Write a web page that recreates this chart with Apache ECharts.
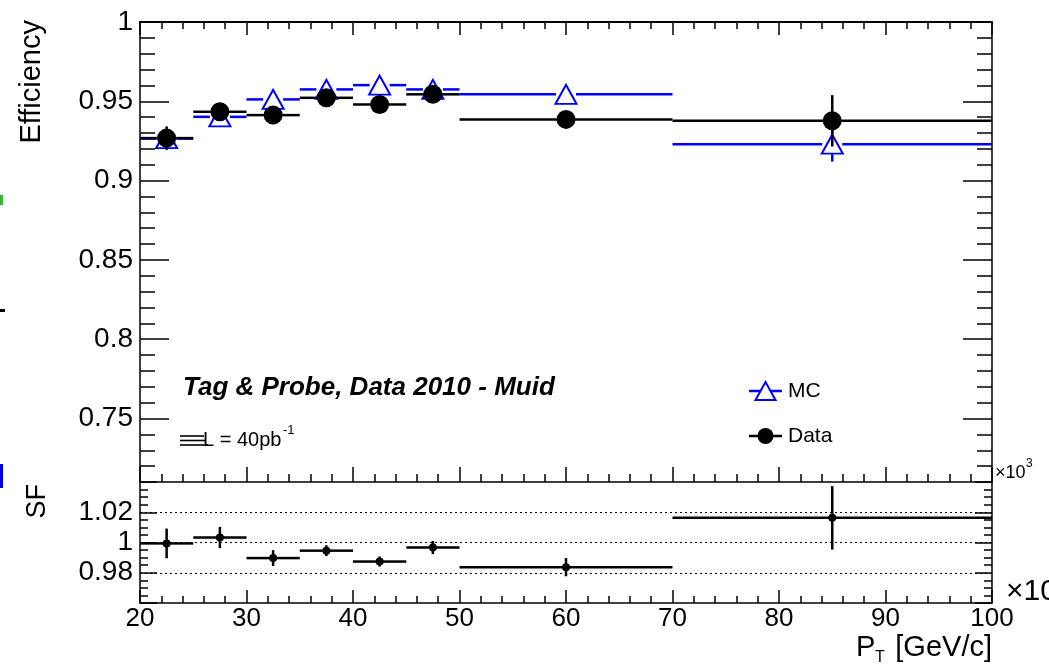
<!DOCTYPE html>
<html>
<head>
<meta charset="utf-8">
<script src="https://cdn.jsdelivr.net/npm/echarts@6/dist/echarts.min.js"></script>
<style>
html,body{margin:0;padding:0;background:#fff;}
#chart{width:1049px;height:664px;}
</style>
</head>
<body>
<div id="chart"></div>
<script>
// ---- data ----
const ptLow    = [20, 25, 30, 35, 40, 45, 50, 70];
const ptHigh   = [25, 30, 35, 40, 45, 50, 70, 100];
const ptCenter = [22.5, 27.5, 32.5, 37.5, 42.5, 47.5, 60, 85];
const mcEff    = [0.9265, 0.9402, 0.9512, 0.9575, 0.9602, 0.9575, 0.9544, 0.9230];
const mcErr    = [0.0040, 0.0020, 0.0020, 0.0010, 0.0010, 0.0010, 0.0020, 0.0110];
const dataEff  = [0.9268, 0.9434, 0.9413, 0.9522, 0.9480, 0.9544, 0.9386, 0.9377];
const dataErr  = [0.0074, 0.0030, 0.0030, 0.0020, 0.0020, 0.0030, 0.0030, 0.0162];
const sfVal    = [0.9994, 1.0033, 0.9897, 0.9946, 0.9874, 0.9967, 0.9837, 1.0163];
const sfErr    = [0.0098, 0.0070, 0.0052, 0.0036, 0.0033, 0.0043, 0.0060, 0.0210];
const effMajorTicks = [0.75, 0.8, 0.85, 0.9, 0.95, 1];
const effMinorTicks = [0.72,0.73,0.74,0.76,0.77,0.78,0.79,0.81,0.82,0.83,0.84,0.86,0.87,0.88,0.89,0.91,0.92,0.93,0.94,0.96,0.97,0.98,0.99];

const FONT = "'Liberation Sans', Arial, Helvetica, sans-serif";
const BLUE = '#0000ff';

function rows(vals, errs) {
  return ptCenter.map((c, i) => [ptLow[i], ptHigh[i], c, vals[i], errs[i]]);
}
function barRenderer(color, width, gap) {
  return function (params, api) {
    const lo = api.value(0), hi = api.value(1), c = api.value(2), v = api.value(3), e = api.value(4);
    const pL = api.coord([lo, v]), pR = api.coord([hi, v]), pC = api.coord([c, v]);
    const pT = api.coord([c, v + e]), pB = api.coord([c, v - e]);
    const style = { stroke: color, lineWidth: width, fill: null };
    const ch = [];
    ch.push({ type: 'line', shape: { x1: pL[0], y1: pL[1], x2: pC[0] - gap, y2: pC[1] }, style });
    ch.push({ type: 'line', shape: { x1: pC[0] + gap, y1: pC[1], x2: pR[0], y2: pR[1] }, style });
    if (pC[1] - gap > pT[1]) ch.push({ type: 'line', shape: { x1: pC[0], y1: pT[1], x2: pC[0], y2: pC[1] - gap }, style });
    if (pB[1] > pC[1] + gap) ch.push({ type: 'line', shape: { x1: pC[0], y1: pC[1] + gap, x2: pC[0], y2: pB[1] }, style });
    return { type: 'group', children: ch };
  };
}

const axisLine = { show: true, lineStyle: { color: '#000', width: 1.5 } };
function xAx(grid, pos, major, minor, labels, lw) {
  return {
    type: 'value', gridIndex: grid, position: pos, min: 20, max: 100, interval: 10,
    axisLine: { show: true, lineStyle: { color: '#000', width: lw || 1.5 } },
    axisTick: { show: true, inside: true, length: major, lineStyle: { color: '#000', width: 1.5 } },
    minorTick: { show: true, splitNumber: 5, length: minor, lineStyle: { color: '#000', width: 1.5 } },
    axisLabel: { show: labels, color: '#000', fontSize: 26, fontFamily: FONT, margin: 3 },
    splitLine: { show: false }
  };
}
function effAx(pos, ticks, len, labels, line) {
  return {
    type: 'value', gridIndex: 0, position: pos, min: 0.71, max: 1,
    axisLine: line ? axisLine : { show: false },
    axisTick: { show: true, inside: true, length: len, customValues: ticks, lineStyle: { color: '#000', width: 1.5 } },
    axisLabel: labels ? { show: true, customValues: ticks, color: '#000', fontSize: 28, fontFamily: FONT, margin: 7,
      formatter: v => String(+(+v).toFixed(2)) } : { show: false },
    splitLine: { show: false }
  };
}
function sfAx(pos, labels) {
  return {
    type: 'value', gridIndex: 1, position: pos, min: 0.96, max: 1.04, interval: 0.02,
    axisLine: axisLine,
    axisTick: { show: true, inside: true, length: 17, lineStyle: { color: '#000', width: 1.5 } },
    minorTick: { show: true, splitNumber: 4, length: 8, lineStyle: { color: '#000', width: 1.5 } },
    axisLabel: labels ? { show: true, color: '#000', fontSize: 28, fontFamily: FONT, margin: 7,
      showMinLabel: false, showMaxLabel: false,
      formatter: v => { const r = Math.round(v * 100) / 100; return (r <= 0.961 || r >= 1.039) ? '' : String(r); } } : { show: false },
    splitLine: labels ? { show: true, showMinLine: false, showMaxLine: false, lineStyle: { color: '#000', width: 1, type: [2, 3] } } : { show: false }
  };
}

const chart = echarts.init(document.getElementById('chart'), null, { renderer: 'canvas' });
const option = {
  animation: false,
  backgroundColor: '#fff',
  grid: [
    { left: 140, right: 57, top: 22, height: 460, outerBoundsMode: 'none', containLabel: false },
    { left: 140, right: 57, top: 482, height: 121, outerBoundsMode: 'none', containLabel: false }
  ],
  xAxis: [
    xAx(0, 'bottom', 15, 8, false),
    xAx(0, 'top', 13, 7, false, 2.2),
    xAx(1, 'bottom', 13, 7, true)
  ],
  yAxis: [
    effAx('left', effMajorTicks, 29, true, true),
    effAx('left', effMinorTicks, 15, false, false),
    effAx('right', effMajorTicks, 29, false, true),
    effAx('right', effMinorTicks, 15, false, false),
    sfAx('left', true),
    sfAx('right', false)
  ],
  series: [
    { type: 'custom', name: 'MC bars', xAxisIndex: 0, yAxisIndex: 0, z: 2, silent: true,
      encode: { x: [0, 1, 2], y: [3] }, data: rows(mcEff, mcErr), renderItem: barRenderer(BLUE, 2.5, 10) },
    { type: 'scatter', name: 'MC', xAxisIndex: 0, yAxisIndex: 0, z: 3, silent: true,
      symbol: 'triangle', symbolSize: [21, 19],
      itemStyle: { color: 'rgba(0,0,0,0)', borderColor: BLUE, borderWidth: 2, opacity: 1 },
      data: ptCenter.map((c, i) => [c, mcEff[i]]) },
    { type: 'custom', name: 'Data bars', xAxisIndex: 0, yAxisIndex: 0, z: 4, silent: true,
      encode: { x: [0, 1, 2], y: [3] }, data: rows(dataEff, dataErr), renderItem: barRenderer('#000', 2.5, 9) },
    { type: 'scatter', name: 'Data', xAxisIndex: 0, yAxisIndex: 0, z: 5, silent: true,
      symbol: 'circle', symbolSize: 19, itemStyle: { color: '#000', opacity: 1 },
      data: ptCenter.map((c, i) => [c, dataEff[i]]) },
    { type: 'custom', name: 'SF bars', xAxisIndex: 2, yAxisIndex: 4, z: 4, silent: true,
      encode: { x: [0, 1, 2], y: [3] }, data: rows(sfVal, sfErr), renderItem: barRenderer('#000', 2.5, 0) },
    { type: 'scatter', name: 'SF', xAxisIndex: 2, yAxisIndex: 4, z: 5, silent: true,
      symbol: 'circle', symbolSize: 8, itemStyle: { color: '#000', opacity: 1 },
      data: ptCenter.map((c, i) => [c, sfVal[i]]) }
  ],
  graphic: [
    // axis titles
    { type: 'text', x: 32, y: 20, rotation: Math.PI / 2, style: { text: 'Efficiency', font: '29px ' + FONT, fill: '#000', align: 'right', verticalAlign: 'middle' } },
    { type: 'text', x: 38, y: 484, rotation: Math.PI / 2, style: { text: 'SF', font: '27px ' + FONT, fill: '#000', align: 'right', verticalAlign: 'middle' } },
    { type: 'text', x: 856, y: 648, style: { text: 'P', font: '29px ' + FONT, fill: '#000', align: 'left', verticalAlign: 'middle' } },
    { type: 'text', x: 875, y: 658, style: { text: 'T', font: '16px ' + FONT, fill: '#000', align: 'left', verticalAlign: 'middle' } },
    { type: 'text', x: 992, y: 648, style: { text: '[GeV/c]', font: '29px ' + FONT, fill: '#000', align: 'right', verticalAlign: 'middle' } },
    // annotation
    { type: 'text', x: 183, y: 388, style: { text: 'Tag & Probe, Data 2010 - Muid', font: 'italic bold 26px ' + FONT, fill: '#000', align: 'left', verticalAlign: 'middle' } },
    { type: 'line', shape: { x1: 180, y1: 436, x2: 204, y2: 436 }, style: { stroke: '#000', lineWidth: 1.6 } },
    { type: 'line', shape: { x1: 180, y1: 440.5, x2: 206, y2: 440.5 }, style: { stroke: '#000', lineWidth: 1.6 } },
    { type: 'line', shape: { x1: 180, y1: 445, x2: 208, y2: 445 }, style: { stroke: '#000', lineWidth: 1.6 } },
    { type: 'text', x: 203, y: 440, style: { text: 'L = 40pb', font: '20px ' + FONT, fill: '#000', align: 'left', verticalAlign: 'middle' } },
    { type: 'text', x: 283, y: 430, style: { text: '-1', font: '13px ' + FONT, fill: '#000', align: 'left', verticalAlign: 'middle' } },
    // legend
    { type: 'line', shape: { x1: 749, y1: 391, x2: 782, y2: 391 }, style: { stroke: BLUE, lineWidth: 2.5 } },
    { type: 'polygon', shape: { points: [[765.5, 382], [775.5, 400], [755.5, 400]] }, style: { stroke: BLUE, lineWidth: 2, fill: '#fff' } },
    { type: 'text', x: 788, y: 391, style: { text: 'MC', font: '21px ' + FONT, fill: '#000', align: 'left', verticalAlign: 'middle' } },
    { type: 'line', shape: { x1: 749, y1: 436, x2: 782, y2: 436 }, style: { stroke: '#000', lineWidth: 2.5 } },
    { type: 'circle', shape: { cx: 765.5, cy: 436, r: 8 }, style: { fill: '#000' } },
    { type: 'text', x: 788, y: 436, style: { text: 'Data', font: '21px ' + FONT, fill: '#000', align: 'left', verticalAlign: 'middle' } },
    // exponent labels
    { type: 'text', x: 995, y: 473, style: { text: '×10', font: '18px ' + FONT, fill: '#000', align: 'left', verticalAlign: 'middle' } },
    { type: 'text', x: 1026, y: 464, style: { text: '3', font: '12px ' + FONT, fill: '#000', align: 'left', verticalAlign: 'middle' } },
    { type: 'text', x: 1006, y: 592, style: { text: '×10', font: '30px ' + FONT, fill: '#000', align: 'left', verticalAlign: 'middle' } },
    // cropped fragments at the left edge
    { type: 'rect', shape: { x: 0, y: 195, width: 3, height: 10 }, style: { fill: '#33bb33' } },
    { type: 'rect', shape: { x: 0, y: 309, width: 5, height: 3 }, style: { fill: '#000' } },
    { type: 'rect', shape: { x: 0, y: 464, width: 3, height: 24 }, style: { fill: '#0000ee' } }
  ]
};
chart.setOption(option);
</script>
</body>
</html>
